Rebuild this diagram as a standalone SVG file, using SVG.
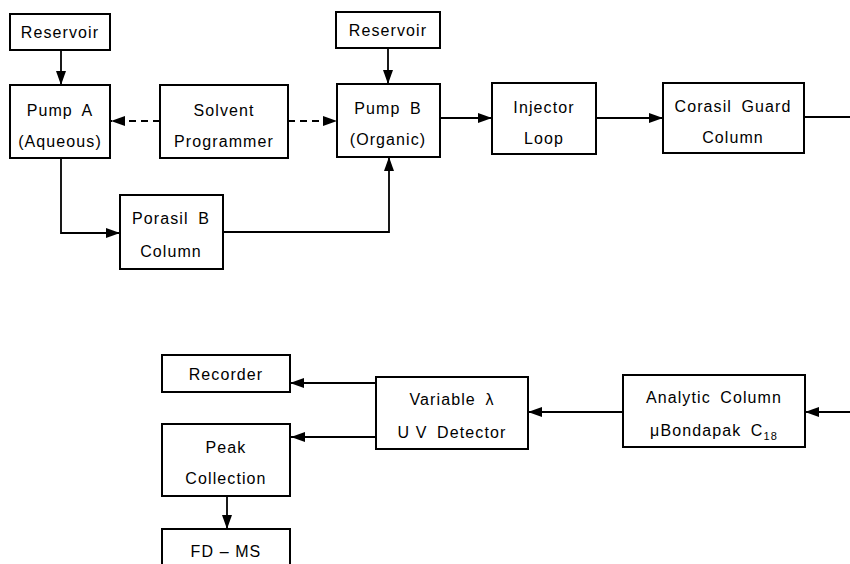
<svg xmlns="http://www.w3.org/2000/svg" width="850" height="564" viewBox="0 0 850 564">
<defs>
<style>
.box{fill:#fff;stroke:#000;stroke-width:2}
.t{font-family:"Liberation Sans","DejaVu Sans",sans-serif;font-size:16px;letter-spacing:1.1px;word-spacing:4px;text-anchor:middle;fill:#000}
.nw{word-spacing:0px}
.ln{fill:none;stroke:#000;stroke-width:1.8}
.ds{fill:none;stroke:#000;stroke-width:1.8;stroke-dasharray:7,5}
</style>
<marker id="ah" viewBox="0 0 14 10" refX="14" refY="5" markerWidth="14" markerHeight="10" markerUnits="userSpaceOnUse" orient="auto">
<path d="M0,0 L14,5 L0,10 Z" fill="#000"/>
</marker>
</defs>
<rect width="850" height="564" fill="#fff"/>
<g id="connectors">
<path class="ln" d="M61,50 V85" marker-end="url(#ah)"/>
<path class="ln" d="M388,48 V84" marker-end="url(#ah)"/>
<path class="ds" d="M160,121 H111" marker-end="url(#ah)"/>
<path class="ds" d="M288,121 H337" marker-end="url(#ah)"/>
<path class="ln" d="M440,118 H492" marker-end="url(#ah)"/>
<path class="ln" d="M596,118 H663" marker-end="url(#ah)"/>
<path class="ln" d="M804,117 H850"/>
<path class="ln" d="M61,158 V233 H120" marker-end="url(#ah)"/>
<path class="ln" d="M223,232 H389 V157" marker-end="url(#ah)"/>
<path class="ln" d="M850,412 H805" marker-end="url(#ah)"/>
<path class="ln" d="M623,412 H528" marker-end="url(#ah)"/>
<path class="ln" d="M376,383 H290" marker-end="url(#ah)"/>
<path class="ln" d="M376,437 H291" marker-end="url(#ah)"/>
<path class="ln" d="M227,496 V529" marker-end="url(#ah)"/>
</g>
<g id="reservoirA"><rect class="box" x="10" y="14" width="100" height="36"/><text class="t" x="60" y="38">Reservoir</text></g>
<g id="pumpA"><rect class="box" x="10" y="85" width="100" height="73"/><text class="t" x="60" y="116">Pump A</text><text class="t" x="60" y="147">(Aqueous)</text></g>
<g id="solvent"><rect class="box" x="160" y="85" width="128" height="73"/><text class="t" x="224" y="116">Solvent</text><text class="t" x="224" y="147">Programmer</text></g>
<g id="reservoirB"><rect class="box" x="336" y="12" width="104" height="36"/><text class="t" x="388" y="36">Reservoir</text></g>
<g id="pumpB"><rect class="box" x="337" y="84" width="103" height="73"/><text class="t" x="388" y="114">Pump B</text><text class="t" x="388" y="145">(Organic)</text></g>
<g id="injector"><rect class="box" x="492" y="83" width="104" height="71"/><text class="t" x="544" y="113">Injector</text><text class="t" x="544" y="144">Loop</text></g>
<g id="corasil"><rect class="box" x="663" y="83" width="141" height="70"/><text class="t" x="733" y="112">Corasil Guard</text><text class="t" x="733" y="143">Column</text></g>
<g id="porasil"><rect class="box" x="120" y="195" width="103" height="74"/><text class="t" x="171" y="224">Porasil B</text><text class="t" x="171" y="257">Column</text></g>
<g id="recorder"><rect class="box" x="162" y="355" width="128" height="37"/><text class="t" x="226" y="380">Recorder</text></g>
<g id="peak"><rect class="box" x="162" y="424" width="128" height="72"/><text class="t" x="226" y="453">Peak</text><text class="t" x="226" y="484">Collection</text></g>
<g id="fdms"><rect class="box" x="162" y="529" width="128" height="40"/><text class="t nw" x="226" y="557">FD – MS</text></g>
<g id="detector"><rect class="box" x="376" y="377" width="152" height="72"/><text class="t" x="452" y="405">Variable λ</text><text class="t" x="452" y="438"><tspan class="nw">U V</tspan> Detector</text></g>
<g id="analytic"><rect class="box" x="623" y="375" width="182" height="72"/><text class="t" x="714" y="403">Analytic Column</text><text class="t" x="714" y="436">μBondapak C<tspan font-size="11" dy="4">18</tspan></text></g>
</svg>
